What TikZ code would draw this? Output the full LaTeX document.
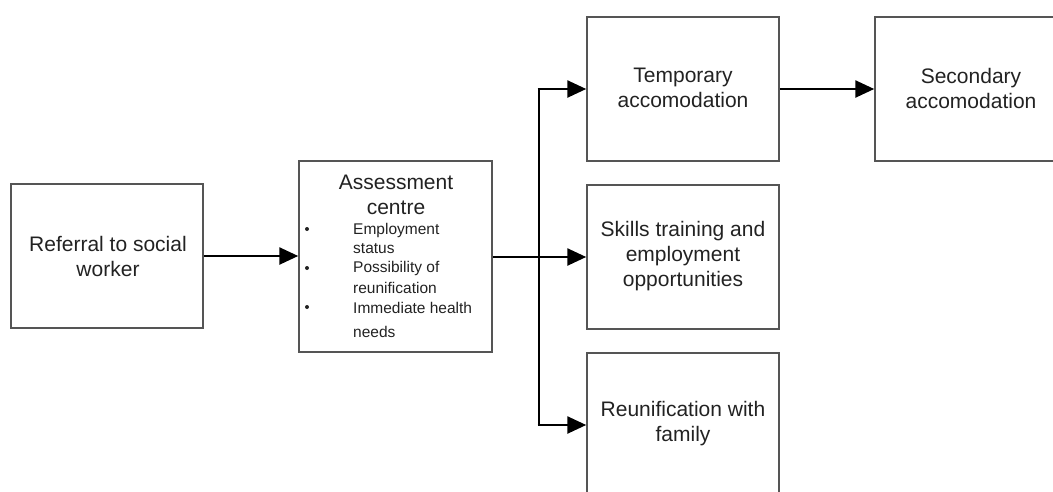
\documentclass[tikz,border=0pt]{standalone}
\usepackage{fontspec}
\setmainfont{Liberation Sans}
\usetikzlibrary{arrows.meta}
\definecolor{boxline}{HTML}{555555}
\definecolor{ink}{HTML}{222222}
\begin{document}
\begin{tikzpicture}[x=1pt,y=-1pt,
  stepbox/.style={draw=boxline,line width=1.5pt,minimum width=192pt,minimum height=144pt,inner sep=0pt},
  boxtext/.style={text=ink,align=center,font=\fontsize{21}{25}\selectfont,inner sep=0pt},
  smalltext/.style={text=ink,anchor=west,font=\fontsize{15.5}{18}\selectfont,inner sep=0pt},
  bulletdot/.style={circle,fill=ink,inner sep=0pt,minimum size=4pt},
  flow/.style={line width=2.6pt,-{Triangle[length=19pt,width=17pt]}},
  link/.style={line width=2.6pt}]
\useasboundingbox (0,0) rectangle (1053,491);
\clip (0,0) rectangle (1053,491);

% boxes
\node[stepbox] (ref) at (107,256) {};
\node[stepbox,minimum height=191pt,minimum width=193pt] (ass) at (395.5,256.5) {};
\node[stepbox] (temp) at (683,89) {};
\node[stepbox] (skill) at (683,257) {};
\node[stepbox] (reun) at (683,425) {};
\node[stepbox] (sec) at (971,89) {};

% box texts
\node[boxtext] (refT) at (108,256) {Referral to social\\worker};
\node[boxtext] (tempT) at (683,88) {Temporary\\accomodation};
\node[boxtext] (skillT) at (683,256) {Skills training and\\employment\\opportunities};
\node[boxtext] (reunT) at (683,424) {Reunification with\\family};
\node[boxtext] (secT) at (971,88) {Secondary\\accomodation};

% assessment centre contents
\node[boxtext] (assT) at (396,195) {Assessment\\centre};
\node[bulletdot] (b1) at (307,229) {};
\node[bulletdot] (b2) at (307,268) {};
\node[bulletdot] (b3) at (307,307) {};
\node[smalltext] (l1) at (353,230) {Employment};
\node[smalltext] (l2) at (353,249) {status};
\node[smalltext] (l3) at (353,268) {Possibility of};
\node[smalltext] (l4) at (353,288) {reunification};
\node[smalltext] (l5) at (353,308) {Immediate health};
\node[smalltext] (l6) at (353,332) {needs};

% connectors
\coordinate (split) at (539,257);
\coordinate (top) at (539,89);
\coordinate (bot) at (539,425);
\draw[flow] (ref.east) -- (ref.east -| ass.west);
\draw[flow] (ass.east |- split) -- (skill.west);
\draw[link] ([yshift=-1.3pt]top) -- ([yshift=1.3pt]bot);
\draw[flow] ([xshift=-1.3pt]top) -- (temp.west);
\draw[flow] ([xshift=-1.3pt]bot) -- (reun.west);
\draw[flow] (temp.east) -- (sec.west);
\end{tikzpicture}
\end{document}
